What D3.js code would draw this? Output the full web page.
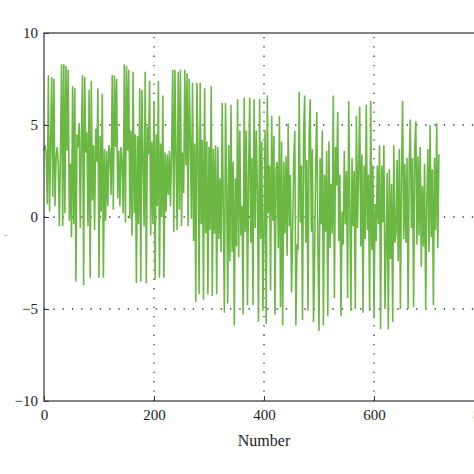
<!DOCTYPE html>
<html><head><meta charset="utf-8">
<script src="https://cdn.jsdelivr.net/npm/d3@7"></script>
<style>body{margin:0;background:#fff}text{font-family:"Liberation Serif",serif}</style>
</head><body>
<script>
// sample spacing along the x axis
const step = 2;
// signal values, one per step
const values = [
3.6,3.9,3.4,0.7,7.7,0.3,3.8,7.6,1.1,7.5,0.6,3.2,3.8,2.9,-0.5,3.7,8.3,-0.5,8.3,0.2,
8.2,3.6,8.0,-0.2,2.9,-1.1,7.1,-0.4,7.0,-3.5,4.5,3.8,5.1,-0.6,4.4,7.7,-3.7,7.6,3.5,4.6,
-0.5,6.9,-3.3,7.4,0.9,3.9,-0.7,4.8,3.0,7.0,-3.3,4.4,0.3,6.7,-3.3,3.7,-0.2,3.6,0.6,3.9,
3.5,1.2,7.7,0.4,7.7,3.8,7.5,1.0,3.6,0.6,3.8,3.0,0.2,8.3,-0.3,8.2,3.6,8.0,-0.1,4.7,
-1.0,7.9,0.2,4.5,-3.6,4.4,-0.4,7.0,-3.5,6.9,3.1,-0.5,7.9,-3.6,4.9,3.4,7.4,-1.0,4.1,-0.4,
6.3,-3.4,4.5,0.6,7.4,-3.3,4.0,0.0,6.6,-3.3,3.5,0.3,3.4,1.2,3.6,0.6,3.5,8.0,-0.8,8.0,
3.4,-0.7,7.9,0.4,8.0,-0.5,3.5,1.3,8.0,2.8,7.8,-0.5,7.5,4.4,-0.1,7.3,-1.3,4.0,-4.6,7.3,
3.9,-4.2,7.3,-0.4,4.2,-4.5,7.0,-0.9,4.1,-4.2,3.8,-0.7,7.1,-4.3,3.7,-0.9,3.9,-4.2,3.8,-1.2,
2.1,-1.9,6.2,0.3,-5.2,6.2,1.8,-4.7,3.9,-2.4,6.1,-1.9,3.0,-5.9,2.1,-1.6,6.4,-2.2,4.7,-1.0,
0.6,-5.3,6.5,-0.8,4.7,-4.8,2.3,6.5,-1.4,3.2,-4.8,6.4,-0.6,4.7,1.4,-5.7,6.4,-1.2,4.1,-5.1,
-0.6,4.7,-5.8,6.6,0.2,2.8,-4.0,5.5,-0.2,4.4,-5.3,2.6,3.0,-1.7,5.5,-4.9,4.1,-5.9,3.0,-0.9,
3.3,-2.1,5.1,-0.5,2.3,-4.1,-0.9,3.0,4.7,-5.9,-1.6,-1.7,6.8,-0.3,2.8,-5.6,4.6,6.6,-1.4,3.1,
-5.1,4.4,6.4,-0.8,3.7,-5.7,-2.3,2.9,5.7,-1.6,-6.2,3.2,-0.4,4.7,-5.9,2.3,-0.8,3.6,-5.4,4.1,
-1.7,1.8,-0.9,6.6,-4.4,3.8,1.7,5.7,-1.3,2.3,-5.4,0.3,-1.5,3.6,-0.4,2.5,-4.4,6.3,0.7,-5.1,
3.2,-0.5,2.5,-5.0,5.5,-0.6,2.6,6.0,-1.6,3.4,-5.2,2.8,-1.2,6.1,-0.7,2.3,-5.1,6.3,-1.8,2.8,
-5.5,0.7,-1.3,2.8,-0.4,3.9,-6.1,2.8,-0.3,3.9,-5.0,-1.6,2.4,-6.1,2.6,-2.3,1.8,-5.7,3.9,-1.4,
-0.9,3.1,-2.4,3.7,-5.0,2.5,6.3,-1.2,2.9,-1.4,3.2,-5.0,2.8,5.3,-0.6,3.2,-4.9,3.6,5.2,-1.5,
3.3,-1.0,3.8,-2.7,1.7,-1.6,2.9,-5.0,0.8,3.7,-1.9,5.0,-1.1,2.6,-4.8,3.2,-0.7,5.1,-1.7,3.4
];
const xTicks = [0, 200, 400, 600, 800];
const yTicks = [-10, -5, 0, 5, 10];

const W = 474, H = 474;
const m = {left: 44, top: 33, right: -10, bottom: 73};
const svg = d3.select("body").append("svg").attr("width", W).attr("height", H);

const x = d3.scaleLinear().domain([0, 800]).range([m.left, W - m.right]);
const y = d3.scaleLinear().domain([-10, 10]).range([H - m.bottom, m.top]);

// dotted grid
svg.append("g").selectAll("line").data(xTicks.slice(1, -1)).join("line")
	.attr("x1", d => x(d)).attr("x2", d => x(d)).attr("y1", y(-10)).attr("y2", y(10))
	.attr("stroke", "#333").attr("stroke-width", 1.3).attr("stroke-dasharray", "1.3,8");
svg.append("g").selectAll("line").data(yTicks.slice(1, -1)).join("line")
	.attr("x1", x(0)).attr("x2", x(800)).attr("y1", d => y(d)).attr("y2", d => y(d))
	.attr("stroke", "#333").attr("stroke-width", 1.3).attr("stroke-dasharray", "1.3,8");

const line = d3.line().x((d, i) => x(i * step)).y(d => y(d));
svg.append("path").datum(values).attr("d", line)
	.attr("fill", "none").attr("stroke", "#6ab843").attr("stroke-width", 1.6);

// frame
svg.append("rect").attr("x", x(0)).attr("y", y(10))
	.attr("width", x(800) - x(0)).attr("height", y(-10) - y(10))
	.attr("fill", "none").attr("stroke", "#333").attr("stroke-width", 1.2);

const xAxis = svg.append("g").attr("transform", `translate(0,${y(-10)})`)
	.call(d3.axisBottom(x).tickValues(xTicks).tickSize(-5).tickPadding(8));
const yAxis = svg.append("g").attr("transform", `translate(${x(0)},0)`)
	.call(d3.axisLeft(y).tickValues(yTicks).tickSize(-5).tickPadding(6).tickFormat(d => d < 0 ? "\u2212" + (-d) : d));
[xAxis, yAxis].forEach(a => {
	a.select(".domain").remove();
	a.selectAll("line").attr("stroke", "#333");
	a.selectAll("text").style("font-size", "15px").attr("fill", "#222").style("font-family", "Liberation Serif, serif");
});

svg.append("text").attr("x", x(400)).attr("y", 446).attr("text-anchor", "middle")
	.style("font-size", "16px").attr("fill", "#222").text("Number");
svg.append("text").attr("x", 4).attr("y", 238).style("font-size", "10px").attr("fill", "#999").text("-");
</script>
</body></html>
